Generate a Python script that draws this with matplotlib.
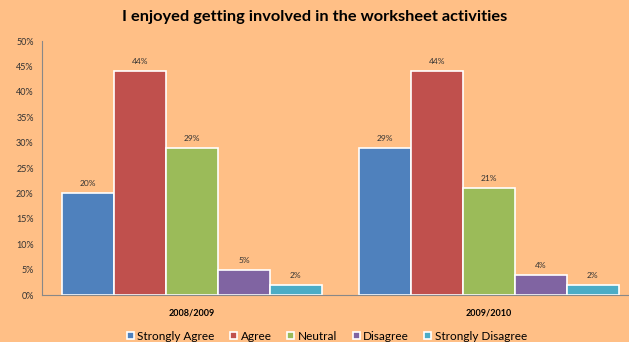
import matplotlib.pyplot as plt
import numpy as np
from matplotlib.ticker import MultipleLocator, FuncFormatter

years = ['2008/2009', '2009/2010']
responses = ['Strongly Agree', 'Agree', 'Neutral', 'Disagree', 'Strongly Disagree']
strongly_agree = [20, 29]
agree = [44, 44]
neutral = [29, 21]
disagree = [5, 4]
strongly_disagree = [2, 2]
colors = ['#4F81BD', '#C0504D', '#9BBB59', '#8064A2', '#4BACC6']

bg = '#FFBF86'
plt.rcParams['font.family'] = ['Lato', 'DejaVu Sans']

fig = plt.figure(figsize=(6.29, 3.42), dpi=100, facecolor=bg)
ax = fig.add_axes([0.0668, 0.1374, 0.944, 0.7427], facecolor=bg)

series = [strongly_agree, agree, neutral, disagree, strongly_disagree]
index = np.arange(len(years))
width = 0.175
for i, vals in enumerate(series):
    pos = index + (i - 2) * width
    ax.bar(pos, vals, width, color=colors[i], edgecolor='white',
           linewidth=1.2, label=responses[i], zorder=2)
    for x, v in zip(pos, vals):
        ax.text(x, v + 1.2, '%d%%' % v, ha='center', va='bottom', fontsize=6,
                color='#333333')

ax.set_xlim(-0.505, 1.495)
ax.set_ylim(0, 50)
ax.yaxis.set_major_locator(MultipleLocator(5))
ax.yaxis.set_major_formatter(FuncFormatter(lambda v, p: '%d%%' % v))
ax.set_xticks(index)
ax.set_xticklabels(years, fontsize=6.5, fontweight='bold')
ax.tick_params(axis='y', labelsize=6.5, length=0, pad=6, labelcolor='#333333')
ax.tick_params(axis='x', length=0, pad=10)
for s in ['top', 'right']:
    ax.spines[s].set_visible(False)
ax.spines['left'].set_color('#888888')
ax.spines['bottom'].set_color('#888888')

fig.suptitle('I enjoyed getting involved in the worksheet activities',
             fontsize=11.8, fontweight='bold', y=0.97, x=0.5)
ax.legend(loc='lower center', bbox_to_anchor=(0.48, -0.225), ncol=5,
          frameon=False, fontsize=8.5, handlelength=0.6, handleheight=0.6,
          handletextpad=0.3, columnspacing=1.3)

plt.savefig('out.png', dpi=100, facecolor=bg)
